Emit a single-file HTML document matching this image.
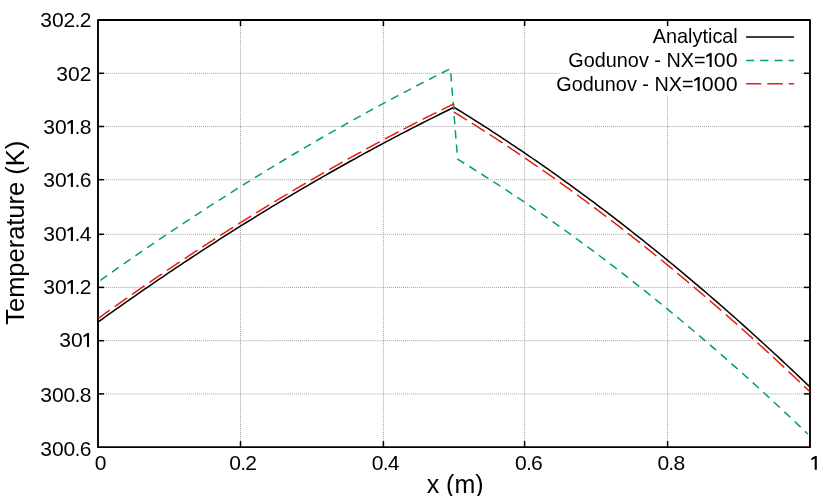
<!DOCTYPE html>
<html><head><meta charset="utf-8"><title>plot</title>
<style>html,body{margin:0;padding:0;background:#fff;}body{width:830px;height:496px;overflow:hidden;}svg{display:block;}text{font-family:"Liberation Sans",sans-serif;fill:#000;}</style>
</head><body>
<svg style="will-change:transform" width="830" height="496" viewBox="0 0 830 496">
<rect x="0" y="0" width="830" height="496" fill="#ffffff"/>
<g stroke="#a2a2a2" stroke-width="1" stroke-dasharray="1.01 1.01" fill="none">
<line x1="98.0" y1="73.30" x2="810.0" y2="73.30"/>
<line x1="98.0" y1="126.50" x2="810.0" y2="126.50"/>
<line x1="98.0" y1="179.70" x2="810.0" y2="179.70"/>
<line x1="98.0" y1="234.30" x2="810.0" y2="234.30"/>
<line x1="98.0" y1="287.40" x2="810.0" y2="287.40"/>
<line x1="98.0" y1="340.70" x2="810.0" y2="340.70"/>
<line x1="98.0" y1="393.90" x2="810.0" y2="393.90"/>
<line x1="240.50" y1="447.15" x2="240.50" y2="20.0"/>
<line x1="383.40" y1="447.15" x2="383.40" y2="20.0"/>
<line x1="524.60" y1="447.15" x2="524.60" y2="20.0"/>
<line x1="667.60" y1="447.15" x2="667.60" y2="20.0"/>
</g>
<rect x="560" y="25.3" width="241" height="70.3" fill="#ffffff"/>
<g stroke="#000" stroke-width="1.5" fill="none">
<line x1="98.0" y1="73.30" x2="104.0" y2="73.30"/>
<line x1="810.0" y1="73.30" x2="804.0" y2="73.30"/>
<line x1="98.0" y1="126.50" x2="104.0" y2="126.50"/>
<line x1="810.0" y1="126.50" x2="804.0" y2="126.50"/>
<line x1="98.0" y1="179.70" x2="104.0" y2="179.70"/>
<line x1="810.0" y1="179.70" x2="804.0" y2="179.70"/>
<line x1="98.0" y1="234.30" x2="104.0" y2="234.30"/>
<line x1="810.0" y1="234.30" x2="804.0" y2="234.30"/>
<line x1="98.0" y1="287.40" x2="104.0" y2="287.40"/>
<line x1="810.0" y1="287.40" x2="804.0" y2="287.40"/>
<line x1="98.0" y1="340.70" x2="104.0" y2="340.70"/>
<line x1="810.0" y1="340.70" x2="804.0" y2="340.70"/>
<line x1="98.0" y1="393.90" x2="104.0" y2="393.90"/>
<line x1="810.0" y1="393.90" x2="804.0" y2="393.90"/>
<line x1="240.50" y1="447.15" x2="240.50" y2="441.15"/>
<line x1="240.50" y1="20.0" x2="240.50" y2="26.0"/>
<line x1="383.40" y1="447.15" x2="383.40" y2="441.15"/>
<line x1="383.40" y1="20.0" x2="383.40" y2="26.0"/>
<line x1="524.60" y1="447.15" x2="524.60" y2="441.15"/>
<line x1="524.60" y1="20.0" x2="524.60" y2="26.0"/>
<line x1="667.60" y1="447.15" x2="667.60" y2="441.15"/>
<line x1="667.60" y1="20.0" x2="667.60" y2="26.0"/>
</g>
<rect x="98.0" y="20.0" width="712.0" height="427.15" fill="none" stroke="#000" stroke-width="1.9" stroke-linejoin="round"/>
<path d="M97.20,322.68 L101.56,319.54 L105.12,316.99 L108.68,314.45 L112.24,311.91 L115.80,309.38 L119.36,306.87 L122.92,304.36 L126.48,301.86 L130.04,299.36 L133.60,296.88 L137.16,294.40 L140.72,291.93 L144.28,289.47 L147.84,287.02 L151.40,284.58 L154.96,282.14 L158.52,279.72 L162.08,277.30 L165.64,274.89 L169.20,272.49 L172.76,270.09 L176.32,267.71 L179.88,265.33 L183.44,262.96 L187.00,260.60 L190.56,258.25 L194.12,255.91 L197.68,253.57 L201.24,251.24 L204.80,248.93 L208.36,246.62 L211.92,244.31 L215.48,242.02 L219.04,239.74 L222.60,237.46 L226.16,235.19 L229.72,232.93 L233.28,230.68 L236.84,228.43 L240.40,226.20 L243.96,223.97 L247.52,221.75 L251.08,219.54 L254.64,217.34 L258.20,215.15 L261.76,212.96 L265.32,210.78 L268.88,208.61 L272.44,206.45 L276.00,204.30 L279.56,202.16 L283.12,200.02 L286.68,197.89 L290.24,195.78 L293.80,193.66 L297.36,191.56 L300.92,189.47 L304.48,187.38 L308.04,185.31 L311.60,183.24 L315.16,181.18 L318.72,179.12 L322.28,177.08 L325.84,175.04 L329.40,173.02 L332.96,171.00 L336.52,168.99 L340.08,166.98 L343.64,164.99 L347.20,163.00 L350.76,161.02 L354.32,159.06 L357.88,157.09 L361.44,155.14 L365.00,153.20 L368.56,151.26 L372.12,149.33 L375.68,147.41 L379.24,145.50 L382.80,143.60 L386.36,141.71 L389.92,139.82 L393.48,137.94 L397.04,136.07 L400.60,134.21 L404.16,132.36 L407.72,130.51 L411.28,128.68 L414.84,126.85 L418.40,125.03 L421.96,123.22 L425.52,121.41 L429.08,119.62 L432.64,117.83 L436.20,116.06 L439.76,114.29 L443.32,112.52 L446.88,110.77 L450.44,109.03 L454.00,107.29 L457.56,109.49 L461.12,111.68 L464.68,113.90 L468.24,116.12 L471.80,118.35 L475.36,120.60 L478.92,122.86 L482.48,125.14 L486.04,127.42 L489.60,129.72 L493.16,132.03 L496.72,134.35 L500.28,136.68 L503.84,139.03 L507.40,141.39 L510.96,143.76 L514.52,146.14 L518.08,148.54 L521.64,150.95 L525.20,153.37 L528.76,155.80 L532.32,158.25 L535.88,160.71 L539.44,163.18 L543.00,165.66 L546.56,168.15 L550.12,170.66 L553.68,173.18 L557.24,175.71 L560.80,178.26 L564.36,180.81 L567.92,183.38 L571.48,185.96 L575.04,188.56 L578.60,191.16 L582.16,193.78 L585.72,196.41 L589.28,199.06 L592.84,201.71 L596.40,204.38 L599.96,207.06 L603.52,209.75 L607.08,212.46 L610.64,215.17 L614.20,217.90 L617.76,220.65 L621.32,223.40 L624.88,226.17 L628.44,228.95 L632.00,231.74 L635.56,234.54 L639.12,237.36 L642.68,240.19 L646.24,243.03 L649.80,245.88 L653.36,248.74 L656.92,251.62 L660.48,254.51 L664.04,257.42 L667.60,260.33 L671.16,263.26 L674.72,266.20 L678.28,269.15 L681.84,272.11 L685.40,275.09 L688.96,278.08 L692.52,281.08 L696.08,284.09 L699.64,287.12 L703.20,290.16 L706.76,293.21 L710.32,296.27 L713.88,299.35 L717.44,302.43 L721.00,305.53 L724.56,308.65 L728.12,311.77 L731.68,314.91 L735.24,318.06 L738.80,321.22 L742.36,324.39 L745.92,327.58 L749.48,330.78 L753.04,333.99 L756.60,337.21 L760.16,340.45 L763.72,343.70 L767.28,346.96 L770.84,350.23 L774.40,353.52 L777.96,356.82 L781.52,360.13 L785.08,363.45 L788.64,366.78 L792.20,370.13 L795.76,373.49 L799.32,376.86 L802.88,380.24 L806.44,383.64 L810.00,387.05" stroke="#000" stroke-width="1.5" fill="none" stroke-linejoin="round"/>
<path d="M100.20,280.52 L107.35,275.44 L114.49,270.40 L121.64,265.39 L128.79,260.41 L135.94,255.46 L143.08,250.54 L150.23,245.65 L157.38,240.80 L164.53,235.97 L171.67,231.18 L178.82,226.42 L185.97,221.69 L193.12,216.99 L200.26,212.32 L207.41,207.69 L214.56,203.08 L221.71,198.51 L228.85,193.97 L236.00,189.46 L243.15,184.98 L250.30,180.53 L257.44,176.11 L264.59,171.73 L271.74,167.37 L278.89,163.05 L286.03,158.76 L293.18,154.50 L300.33,150.27 L307.48,146.07 L314.62,141.91 L321.77,137.77 L328.92,133.67 L336.07,129.60 L343.21,125.56 L350.36,121.55 L357.51,117.57 L364.66,113.62 L371.80,109.71 L378.95,105.82 L386.10,101.97 L393.25,98.15 L400.39,94.36 L407.54,90.60 L414.69,86.87 L421.84,83.18 L428.98,79.51 L436.13,75.88 L443.28,72.27 L450.43,68.70 L457.57,159.19 L464.72,163.57 L471.87,168.01 L479.02,172.49 L486.16,177.02 L493.31,181.60 L500.46,186.24 L507.61,190.93 L514.75,195.66 L521.90,200.45 L529.05,205.29 L536.20,210.19 L543.34,215.13 L550.49,220.12 L557.64,225.17 L564.79,230.26 L571.93,235.41 L579.08,240.61 L586.23,245.86 L593.38,251.16 L600.52,256.51 L607.67,261.91 L614.82,267.37 L621.97,272.87 L629.11,278.43 L636.26,284.04 L643.41,289.70 L650.56,295.41 L657.70,301.17 L664.85,306.98 L672.00,312.84 L679.15,318.76 L686.29,324.72 L693.44,330.74 L700.59,336.81 L707.74,342.93 L714.88,349.10 L722.03,355.32 L729.18,361.59 L736.33,367.92 L743.47,374.29 L750.62,380.72 L757.77,387.20 L764.92,393.73 L772.06,400.31 L779.21,406.94 L786.36,413.62 L793.51,420.35 L800.65,427.14 L807.80,433.97" stroke="#009e73" stroke-width="1.5" fill="none" stroke-linejoin="round" stroke-dasharray="8.245 6.035" stroke-dashoffset="-0.2"/>
<path d="M98.36,318.34 L99.07,317.83 L99.78,317.32 L100.49,316.81 L101.20,316.30 L101.92,315.78 L102.63,315.27 L103.34,314.76 L104.05,314.25 L104.76,313.74 L105.48,313.23 L106.19,312.73 L106.90,312.22 L107.61,311.71 L108.32,311.20 L109.04,310.69 L109.75,310.18 L110.46,309.68 L111.17,309.17 L111.88,308.66 L112.60,308.16 L113.31,307.65 L114.02,307.15 L114.73,306.64 L115.44,306.14 L116.16,305.63 L116.87,305.13 L117.58,304.62 L118.29,304.12 L119.00,303.62 L119.72,303.12 L120.43,302.61 L121.14,302.11 L121.85,301.61 L122.56,301.11 L123.28,300.61 L123.99,300.11 L124.70,299.60 L125.41,299.10 L126.12,298.61 L126.84,298.11 L127.55,297.61 L128.26,297.11 L128.97,296.61 L129.68,296.11 L130.40,295.61 L131.11,295.12 L131.82,294.62 L132.53,294.12 L133.24,293.63 L133.96,293.13 L134.67,292.63 L135.38,292.14 L136.09,291.64 L136.80,291.15 L137.52,290.65 L138.23,290.16 L138.94,289.67 L139.65,289.17 L140.36,288.68 L141.08,288.19 L141.79,287.69 L142.50,287.20 L143.21,286.71 L143.92,286.22 L144.64,285.73 L145.35,285.24 L146.06,284.75 L146.77,284.26 L147.48,283.77 L148.20,283.28 L148.91,282.79 L149.62,282.30 L150.33,281.81 L151.04,281.32 L151.76,280.83 L152.47,280.35 L153.18,279.86 L153.89,279.37 L154.60,278.89 L155.32,278.40 L156.03,277.91 L156.74,277.43 L157.45,276.94 L158.16,276.46 L158.88,275.97 L159.59,275.49 L160.30,275.01 L161.01,274.52 L161.72,274.04 L162.44,273.56 L163.15,273.07 L163.86,272.59 L164.57,272.11 L165.28,271.63 L166.00,271.15 L166.71,270.67 L167.42,270.19 L168.13,269.71 L168.84,269.23 L169.56,268.75 L170.27,268.27 L170.98,267.79 L171.69,267.31 L172.40,266.83 L173.12,266.35 L173.83,265.88 L174.54,265.40 L175.25,264.92 L175.96,264.45 L176.68,263.97 L177.39,263.49 L178.10,263.02 L178.81,262.54 L179.52,262.07 L180.24,261.59 L180.95,261.12 L181.66,260.65 L182.37,260.17 L183.08,259.70 L183.80,259.23 L184.51,258.75 L185.22,258.28 L185.93,257.81 L186.64,257.34 L187.36,256.87 L188.07,256.40 L188.78,255.93 L189.49,255.46 L190.20,254.99 L190.92,254.52 L191.63,254.05 L192.34,253.58 L193.05,253.11 L193.76,252.64 L194.48,252.17 L195.19,251.71 L195.90,251.24 L196.61,250.77 L197.32,250.30 L198.04,249.84 L198.75,249.37 L199.46,248.91 L200.17,248.44 L200.88,247.98 L201.60,247.51 L202.31,247.05 L203.02,246.58 L203.73,246.12 L204.44,245.66 L205.16,245.19 L205.87,244.73 L206.58,244.27 L207.29,243.81 L208.00,243.35 L208.72,242.89 L209.43,242.42 L210.14,241.96 L210.85,241.50 L211.56,241.04 L212.28,240.58 L212.99,240.13 L213.70,239.67 L214.41,239.21 L215.12,238.75 L215.84,238.29 L216.55,237.83 L217.26,237.38 L217.97,236.92 L218.68,236.46 L219.40,236.01 L220.11,235.55 L220.82,235.10 L221.53,234.64 L222.24,234.19 L222.96,233.73 L223.67,233.28 L224.38,232.82 L225.09,232.37 L225.80,231.92 L226.52,231.46 L227.23,231.01 L227.94,230.56 L228.65,230.11 L229.36,229.65 L230.08,229.20 L230.79,228.75 L231.50,228.30 L232.21,227.85 L232.92,227.40 L233.64,226.95 L234.35,226.50 L235.06,226.05 L235.77,225.61 L236.48,225.16 L237.20,224.71 L237.91,224.26 L238.62,223.81 L239.33,223.37 L240.04,222.92 L240.76,222.47 L241.47,222.03 L242.18,221.58 L242.89,221.14 L243.60,220.69 L244.32,220.25 L245.03,219.80 L245.74,219.36 L246.45,218.92 L247.16,218.47 L247.88,218.03 L248.59,217.59 L249.30,217.15 L250.01,216.70 L250.72,216.26 L251.44,215.82 L252.15,215.38 L252.86,214.94 L253.57,214.50 L254.28,214.06 L255.00,213.62 L255.71,213.18 L256.42,212.74 L257.13,212.30 L257.84,211.86 L258.56,211.43 L259.27,210.99 L259.98,210.55 L260.69,210.11 L261.40,209.68 L262.12,209.24 L262.83,208.81 L263.54,208.37 L264.25,207.94 L264.96,207.50 L265.68,207.07 L266.39,206.63 L267.10,206.20 L267.81,205.76 L268.52,205.33 L269.24,204.90 L269.95,204.47 L270.66,204.03 L271.37,203.60 L272.08,203.17 L272.80,202.74 L273.51,202.31 L274.22,201.88 L274.93,201.45 L275.64,201.02 L276.36,200.59 L277.07,200.16 L277.78,199.73 L278.49,199.30 L279.20,198.87 L279.92,198.44 L280.63,198.02 L281.34,197.59 L282.05,197.16 L282.76,196.73 L283.48,196.31 L284.19,195.88 L284.90,195.46 L285.61,195.03 L286.32,194.61 L287.04,194.18 L287.75,193.76 L288.46,193.33 L289.17,192.91 L289.88,192.49 L290.60,192.06 L291.31,191.64 L292.02,191.22 L292.73,190.80 L293.44,190.38 L294.16,189.95 L294.87,189.53 L295.58,189.11 L296.29,188.69 L297.00,188.27 L297.72,187.85 L298.43,187.43 L299.14,187.01 L299.85,186.60 L300.56,186.18 L301.28,185.76 L301.99,185.34 L302.70,184.92 L303.41,184.51 L304.12,184.09 L304.84,183.67 L305.55,183.26 L306.26,182.84 L306.97,182.43 L307.68,182.01 L308.40,181.60 L309.11,181.18 L309.82,180.77 L310.53,180.36 L311.24,179.94 L311.96,179.53 L312.67,179.12 L313.38,178.70 L314.09,178.29 L314.80,177.88 L315.52,177.47 L316.23,177.06 L316.94,176.65 L317.65,176.24 L318.36,175.83 L319.08,175.42 L319.79,175.01 L320.50,174.60 L321.21,174.19 L321.92,173.78 L322.64,173.37 L323.35,172.97 L324.06,172.56 L324.77,172.15 L325.48,171.75 L326.20,171.34 L326.91,170.93 L327.62,170.53 L328.33,170.12 L329.04,169.72 L329.76,169.31 L330.47,168.91 L331.18,168.50 L331.89,168.10 L332.60,167.70 L333.32,167.29 L334.03,166.89 L334.74,166.49 L335.45,166.09 L336.16,165.69 L336.88,165.28 L337.59,164.88 L338.30,164.48 L339.01,164.08 L339.72,163.68 L340.44,163.28 L341.15,162.88 L341.86,162.48 L342.57,162.09 L343.28,161.69 L344.00,161.29 L344.71,160.89 L345.42,160.49 L346.13,160.10 L346.84,159.70 L347.56,159.30 L348.27,158.91 L348.98,158.51 L349.69,158.12 L350.40,157.72 L351.12,157.33 L351.83,156.93 L352.54,156.54 L353.25,156.15 L353.96,155.75 L354.68,155.36 L355.39,154.97 L356.10,154.57 L356.81,154.18 L357.52,153.79 L358.24,153.40 L358.95,153.01 L359.66,152.62 L360.37,152.23 L361.08,151.84 L361.80,151.45 L362.51,151.06 L363.22,150.67 L363.93,150.28 L364.64,149.89 L365.36,149.50 L366.07,149.12 L366.78,148.73 L367.49,148.34 L368.20,147.95 L368.92,147.57 L369.63,147.18 L370.34,146.80 L371.05,146.41 L371.76,146.03 L372.48,145.64 L373.19,145.26 L373.90,144.87 L374.61,144.49 L375.32,144.11 L376.04,143.72 L376.75,143.34 L377.46,142.96 L378.17,142.58 L378.88,142.19 L379.60,141.81 L380.31,141.43 L381.02,141.05 L381.73,140.67 L382.44,140.29 L383.16,139.91 L383.87,139.53 L384.58,139.15 L385.29,138.77 L386.00,138.39 L386.72,138.02 L387.43,137.64 L388.14,137.26 L388.85,136.88 L389.56,136.51 L390.28,136.13 L390.99,135.76 L391.70,135.38 L392.41,135.00 L393.12,134.63 L393.84,134.25 L394.55,133.88 L395.26,133.51 L395.97,133.13 L396.68,132.76 L397.40,132.39 L398.11,132.01 L398.82,131.64 L399.53,131.27 L400.24,130.90 L400.96,130.53 L401.67,130.15 L402.38,129.78 L403.09,129.41 L403.80,129.04 L404.52,128.67 L405.23,128.30 L405.94,127.93 L406.65,127.57 L407.36,127.20 L408.08,126.83 L408.79,126.46 L409.50,126.09 L410.21,125.73 L410.92,125.36 L411.64,124.99 L412.35,124.63 L413.06,124.26 L413.77,123.90 L414.48,123.53 L415.20,123.17 L415.91,122.80 L416.62,122.44 L417.33,122.07 L418.04,121.71 L418.76,121.35 L419.47,120.98 L420.18,120.62 L420.89,120.26 L421.60,119.90 L422.32,119.54 L423.03,119.18 L423.74,118.82 L424.45,118.45 L425.16,118.09 L425.88,117.74 L426.59,117.38 L427.30,117.02 L428.01,116.66 L428.72,116.30 L429.44,115.94 L430.15,115.58 L430.86,115.23 L431.57,114.87 L432.28,114.51 L433.00,114.16 L433.71,113.80 L434.42,113.44 L435.13,113.09 L435.84,112.73 L436.56,112.38 L437.27,112.02 L437.98,111.67 L438.69,111.32 L439.40,110.96 L440.12,110.61 L440.83,110.26 L441.54,109.90 L442.25,109.55 L442.96,109.20 L443.68,108.85 L444.39,108.50 L445.10,108.15 L445.81,107.80 L446.52,107.45 L447.24,107.10 L447.95,106.75 L448.66,106.40 L449.37,106.05 L450.08,105.70 L450.80,105.35 L451.51,105.00 L452.22,104.66 L452.93,104.31 L453.64,103.96 L454.36,112.32 L455.07,112.75 L455.78,113.19 L456.49,113.63 L457.20,114.07 L457.92,114.51 L458.63,114.94 L459.34,115.38 L460.05,115.82 L460.76,116.26 L461.48,116.71 L462.19,117.15 L462.90,117.59 L463.61,118.03 L464.32,118.47 L465.04,118.92 L465.75,119.36 L466.46,119.81 L467.17,120.25 L467.88,120.70 L468.60,121.14 L469.31,121.59 L470.02,122.04 L470.73,122.48 L471.44,122.93 L472.16,123.38 L472.87,123.83 L473.58,124.28 L474.29,124.73 L475.00,125.18 L475.72,125.63 L476.43,126.08 L477.14,126.53 L477.85,126.98 L478.56,127.44 L479.28,127.89 L479.99,128.34 L480.70,128.80 L481.41,129.25 L482.12,129.71 L482.84,130.16 L483.55,130.62 L484.26,131.08 L484.97,131.53 L485.68,131.99 L486.40,132.45 L487.11,132.91 L487.82,133.37 L488.53,133.83 L489.24,134.29 L489.96,134.75 L490.67,135.21 L491.38,135.67 L492.09,136.13 L492.80,136.60 L493.52,137.06 L494.23,137.52 L494.94,137.99 L495.65,138.45 L496.36,138.92 L497.08,139.38 L497.79,139.85 L498.50,140.31 L499.21,140.78 L499.92,141.25 L500.64,141.72 L501.35,142.19 L502.06,142.66 L502.77,143.12 L503.48,143.60 L504.20,144.07 L504.91,144.54 L505.62,145.01 L506.33,145.48 L507.04,145.95 L507.76,146.43 L508.47,146.90 L509.18,147.37 L509.89,147.85 L510.60,148.32 L511.32,148.80 L512.03,149.27 L512.74,149.75 L513.45,150.23 L514.16,150.71 L514.88,151.18 L515.59,151.66 L516.30,152.14 L517.01,152.62 L517.72,153.10 L518.44,153.58 L519.15,154.06 L519.86,154.54 L520.57,155.03 L521.28,155.51 L522.00,155.99 L522.71,156.47 L523.42,156.96 L524.13,157.44 L524.84,157.93 L525.56,158.41 L526.27,158.90 L526.98,159.39 L527.69,159.87 L528.40,160.36 L529.12,160.85 L529.83,161.34 L530.54,161.82 L531.25,162.31 L531.96,162.80 L532.68,163.29 L533.39,163.78 L534.10,164.28 L534.81,164.77 L535.52,165.26 L536.24,165.75 L536.95,166.25 L537.66,166.74 L538.37,167.23 L539.08,167.73 L539.80,168.22 L540.51,168.72 L541.22,169.22 L541.93,169.71 L542.64,170.21 L543.36,170.71 L544.07,171.21 L544.78,171.71 L545.49,172.20 L546.20,172.70 L546.92,173.20 L547.63,173.71 L548.34,174.21 L549.05,174.71 L549.76,175.21 L550.48,175.71 L551.19,176.22 L551.90,176.72 L552.61,177.22 L553.32,177.73 L554.04,178.23 L554.75,178.74 L555.46,179.25 L556.17,179.75 L556.88,180.26 L557.60,180.77 L558.31,181.28 L559.02,181.78 L559.73,182.29 L560.44,182.80 L561.16,183.31 L561.87,183.82 L562.58,184.33 L563.29,184.85 L564.00,185.36 L564.72,185.87 L565.43,186.38 L566.14,186.90 L566.85,187.41 L567.56,187.93 L568.28,188.44 L568.99,188.96 L569.70,189.47 L570.41,189.99 L571.12,190.51 L571.84,191.02 L572.55,191.54 L573.26,192.06 L573.97,192.58 L574.68,193.10 L575.40,193.62 L576.11,194.14 L576.82,194.66 L577.53,195.18 L578.24,195.70 L578.96,196.23 L579.67,196.75 L580.38,197.27 L581.09,197.80 L581.80,198.32 L582.52,198.85 L583.23,199.37 L583.94,199.90 L584.65,200.42 L585.36,200.95 L586.08,201.48 L586.79,202.01 L587.50,202.53 L588.21,203.06 L588.92,203.59 L589.64,204.12 L590.35,204.65 L591.06,205.18 L591.77,205.71 L592.48,206.25 L593.20,206.78 L593.91,207.31 L594.62,207.84 L595.33,208.38 L596.04,208.91 L596.76,209.45 L597.47,209.98 L598.18,210.52 L598.89,211.05 L599.60,211.59 L600.32,212.13 L601.03,212.67 L601.74,213.20 L602.45,213.74 L603.16,214.28 L603.88,214.82 L604.59,215.36 L605.30,215.90 L606.01,216.44 L606.72,216.99 L607.44,217.53 L608.15,218.07 L608.86,218.61 L609.57,219.16 L610.28,219.70 L611.00,220.25 L611.71,220.79 L612.42,221.34 L613.13,221.88 L613.84,222.43 L614.56,222.98 L615.27,223.53 L615.98,224.07 L616.69,224.62 L617.40,225.17 L618.12,225.72 L618.83,226.27 L619.54,226.82 L620.25,227.37 L620.96,227.92 L621.68,228.48 L622.39,229.03 L623.10,229.58 L623.81,230.14 L624.52,230.69 L625.24,231.24 L625.95,231.80 L626.66,232.36 L627.37,232.91 L628.08,233.47 L628.80,234.02 L629.51,234.58 L630.22,235.14 L630.93,235.70 L631.64,236.26 L632.36,236.82 L633.07,237.38 L633.78,237.94 L634.49,238.50 L635.20,239.06 L635.92,239.62 L636.63,240.18 L637.34,240.75 L638.05,241.31 L638.76,241.88 L639.48,242.44 L640.19,243.00 L640.90,243.57 L641.61,244.14 L642.32,244.70 L643.04,245.27 L643.75,245.84 L644.46,246.40 L645.17,246.97 L645.88,247.54 L646.60,248.11 L647.31,248.68 L648.02,249.25 L648.73,249.82 L649.44,250.39 L650.16,250.97 L650.87,251.54 L651.58,252.11 L652.29,252.68 L653.00,253.26 L653.72,253.83 L654.43,254.41 L655.14,254.98 L655.85,255.56 L656.56,256.13 L657.28,256.71 L657.99,257.29 L658.70,257.87 L659.41,258.44 L660.12,259.02 L660.84,259.60 L661.55,260.18 L662.26,260.76 L662.97,261.34 L663.68,261.92 L664.40,262.51 L665.11,263.09 L665.82,263.67 L666.53,264.25 L667.24,264.84 L667.96,265.42 L668.67,266.01 L669.38,266.59 L670.09,267.18 L670.80,267.76 L671.52,268.35 L672.23,268.94 L672.94,269.53 L673.65,270.11 L674.36,270.70 L675.08,271.29 L675.79,271.88 L676.50,272.47 L677.21,273.06 L677.92,273.65 L678.64,274.24 L679.35,274.84 L680.06,275.43 L680.77,276.02 L681.48,276.62 L682.20,277.21 L682.91,277.80 L683.62,278.40 L684.33,279.00 L685.04,279.59 L685.76,280.19 L686.47,280.78 L687.18,281.38 L687.89,281.98 L688.60,282.58 L689.32,283.18 L690.03,283.78 L690.74,284.38 L691.45,284.98 L692.16,285.58 L692.88,286.18 L693.59,286.78 L694.30,287.38 L695.01,287.99 L695.72,288.59 L696.44,289.20 L697.15,289.80 L697.86,290.40 L698.57,291.01 L699.28,291.62 L700.00,292.22 L700.71,292.83 L701.42,293.44 L702.13,294.04 L702.84,294.65 L703.56,295.26 L704.27,295.87 L704.98,296.48 L705.69,297.09 L706.40,297.70 L707.12,298.31 L707.83,298.93 L708.54,299.54 L709.25,300.15 L709.96,300.76 L710.68,301.38 L711.39,301.99 L712.10,302.61 L712.81,303.22 L713.52,303.84 L714.24,304.45 L714.95,305.07 L715.66,305.69 L716.37,306.31 L717.08,306.92 L717.80,307.54 L718.51,308.16 L719.22,308.78 L719.93,309.40 L720.64,310.02 L721.36,310.65 L722.07,311.27 L722.78,311.89 L723.49,312.51 L724.20,313.14 L724.92,313.76 L725.63,314.38 L726.34,315.01 L727.05,315.63 L727.76,316.26 L728.48,316.88 L729.19,317.51 L729.90,318.14 L730.61,318.77 L731.32,319.39 L732.04,320.02 L732.75,320.65 L733.46,321.28 L734.17,321.91 L734.88,322.54 L735.60,323.17 L736.31,323.81 L737.02,324.44 L737.73,325.07 L738.44,325.70 L739.16,326.34 L739.87,326.97 L740.58,327.61 L741.29,328.24 L742.00,328.88 L742.72,329.51 L743.43,330.15 L744.14,330.79 L744.85,331.42 L745.56,332.06 L746.28,332.70 L746.99,333.34 L747.70,333.98 L748.41,334.62 L749.12,335.26 L749.84,335.90 L750.55,336.54 L751.26,337.18 L751.97,337.83 L752.68,338.47 L753.40,339.11 L754.11,339.76 L754.82,340.40 L755.53,341.05 L756.24,341.69 L756.96,342.34 L757.67,342.98 L758.38,343.63 L759.09,344.28 L759.80,344.93 L760.52,345.57 L761.23,346.22 L761.94,346.87 L762.65,347.52 L763.36,348.17 L764.08,348.82 L764.79,349.48 L765.50,350.13 L766.21,350.78 L766.92,351.43 L767.64,352.09 L768.35,352.74 L769.06,353.39 L769.77,354.05 L770.48,354.70 L771.20,355.36 L771.91,356.02 L772.62,356.67 L773.33,357.33 L774.04,357.99 L774.76,358.65 L775.47,359.31 L776.18,359.96 L776.89,360.62 L777.60,361.28 L778.32,361.95 L779.03,362.61 L779.74,363.27 L780.45,363.93 L781.16,364.59 L781.88,365.26 L782.59,365.92 L783.30,366.58 L784.01,367.25 L784.72,367.91 L785.44,368.58 L786.15,369.25 L786.86,369.91 L787.57,370.58 L788.28,371.25 L789.00,371.92 L789.71,372.59 L790.42,373.25 L791.13,373.92 L791.84,374.59 L792.56,375.26 L793.27,375.94 L793.98,376.61 L794.69,377.28 L795.40,377.95 L796.12,378.63 L796.83,379.30 L797.54,379.97 L798.25,380.65 L798.96,381.32 L799.68,382.00 L800.39,382.67 L801.10,383.35 L801.81,384.03 L802.52,384.71 L803.24,385.38 L803.95,386.06 L804.66,386.74 L805.37,387.42 L806.08,388.10 L806.80,388.78 L807.51,389.46 L808.22,390.14 L808.93,390.83 L809.64,391.51" stroke="#e51e10" stroke-width="1.5" fill="none" stroke-linejoin="round" stroke-dasharray="15.35 5.87" stroke-dashoffset="1.2"/>
<g font-size="19.6">
<text transform="translate(40.20,27) scale(1.075,1)">3</text>
<text transform="translate(51.90,27) scale(1.075,1)">0</text>
<text transform="translate(63.60,27) scale(1.075,1)">2</text>
<text x="74.78" y="27">.</text>
<text transform="translate(79.70,27) scale(1.075,1)">2</text>
<text transform="translate(56.30,81) scale(1.075,1)">3</text>
<text transform="translate(68.00,81) scale(1.075,1)">0</text>
<text transform="translate(79.70,81) scale(1.075,1)">2</text>
<text transform="translate(43.20,134) scale(1.075,1)">3</text>
<text transform="translate(54.90,134) scale(1.075,1)">0</text>
<path d="M72.95,120.10 L71.15,120.10 L67.45,122.50 L67.45,124.40 L70.85,122.60 L70.85,134.00 L72.95,134.00 Z" fill="#000"/>
<text x="74.78" y="134">.</text>
<text transform="translate(79.70,134) scale(1.075,1)">8</text>
<text transform="translate(43.20,187) scale(1.075,1)">3</text>
<text transform="translate(54.90,187) scale(1.075,1)">0</text>
<path d="M72.95,173.10 L71.15,173.10 L67.45,175.50 L67.45,177.40 L70.85,175.60 L70.85,187.00 L72.95,187.00 Z" fill="#000"/>
<text x="74.78" y="187">.</text>
<text transform="translate(79.70,187) scale(1.075,1)">6</text>
<text transform="translate(43.20,241) scale(1.075,1)">3</text>
<text transform="translate(54.90,241) scale(1.075,1)">0</text>
<path d="M72.95,227.10 L71.15,227.10 L67.45,229.50 L67.45,231.40 L70.85,229.60 L70.85,241.00 L72.95,241.00 Z" fill="#000"/>
<text x="74.78" y="241">.</text>
<text transform="translate(79.70,241) scale(1.075,1)">4</text>
<text transform="translate(43.20,294) scale(1.075,1)">3</text>
<text transform="translate(54.90,294) scale(1.075,1)">0</text>
<path d="M72.95,280.10 L71.15,280.10 L67.45,282.50 L67.45,284.40 L70.85,282.60 L70.85,294.00 L72.95,294.00 Z" fill="#000"/>
<text x="74.78" y="294">.</text>
<text transform="translate(79.70,294) scale(1.075,1)">2</text>
<text transform="translate(59.30,347) scale(1.075,1)">3</text>
<text transform="translate(71.00,347) scale(1.075,1)">0</text>
<path d="M89.05,333.10 L87.25,333.10 L83.55,335.50 L83.55,337.40 L86.95,335.60 L86.95,347.00 L89.05,347.00 Z" fill="#000"/>
<text transform="translate(40.20,402) scale(1.075,1)">3</text>
<text transform="translate(51.90,402) scale(1.075,1)">0</text>
<text transform="translate(63.60,402) scale(1.075,1)">0</text>
<text x="74.78" y="402">.</text>
<text transform="translate(79.70,402) scale(1.075,1)">8</text>
<text transform="translate(40.20,456) scale(1.075,1)">3</text>
<text transform="translate(51.90,456) scale(1.075,1)">0</text>
<text transform="translate(63.60,456) scale(1.075,1)">0</text>
<text x="74.78" y="456">.</text>
<text transform="translate(79.70,456) scale(1.075,1)">6</text>
<text transform="translate(94.75,470) scale(1.075,1)">0</text>
<text transform="translate(229.25,470) scale(1.075,1)">0</text>
<text x="240.43" y="470">.</text>
<text transform="translate(245.35,470) scale(1.075,1)">2</text>
<text transform="translate(371.70,470) scale(1.075,1)">0</text>
<text x="382.88" y="470">.</text>
<text transform="translate(387.80,470) scale(1.075,1)">4</text>
<text transform="translate(515.00,470) scale(1.075,1)">0</text>
<text x="526.18" y="470">.</text>
<text transform="translate(531.10,470) scale(1.075,1)">6</text>
<text transform="translate(657.40,470) scale(1.075,1)">0</text>
<text x="668.58" y="470">.</text>
<text transform="translate(673.50,470) scale(1.075,1)">8</text>
<path d="M816.80,455.90 L815.00,455.90 L811.30,458.30 L811.30,460.20 L814.70,458.40 L814.70,469.80 L816.80,469.80 Z" fill="#000"/>
<text transform="translate(737.8,43) scale(1.015,1)" text-anchor="end">Analytical</text>
<text transform="translate(705.6,67) scale(1.0127,1)" text-anchor="end">Godunov - NX=</text>
<path d="M711.70,53.10 L709.90,53.10 L706.20,55.50 L706.20,57.40 L709.60,55.60 L709.60,67.00 L711.70,67.00 Z" fill="#000"/>
<text transform="translate(713.85,67) scale(1.09,1)">0</text>
<text transform="translate(725.85,67) scale(1.09,1)">0</text>
<text transform="translate(693.6,91) scale(1.0127,1)" text-anchor="end">Godunov - NX=</text>
<path d="M699.70,77.10 L697.90,77.10 L694.20,79.50 L694.20,81.40 L697.60,79.60 L697.60,91.00 L699.70,91.00 Z" fill="#000"/>
<text transform="translate(701.85,91) scale(1.09,1)">0</text>
<text transform="translate(713.85,91) scale(1.09,1)">0</text>
<text transform="translate(725.85,91) scale(1.09,1)">0</text>
</g>
<line x1="746" y1="36.9" x2="794" y2="36.9" stroke="#000" stroke-width="1.5"/>
<line x1="746" y1="60.45" x2="794" y2="60.45" stroke="#009e73" stroke-width="1.5" stroke-dasharray="8.2 6"/>
<line x1="746" y1="83.7" x2="794" y2="83.7" stroke="#e51e10" stroke-width="1.5" stroke-dasharray="15.4 5.9"/>
<text x="455.1" y="493" font-size="25" text-anchor="middle">x (m)</text>
<text transform="translate(24,232.8) rotate(-90) scale(1.019,1)" font-size="25" text-anchor="middle">Temperature (K)</text>
</svg></body></html>
